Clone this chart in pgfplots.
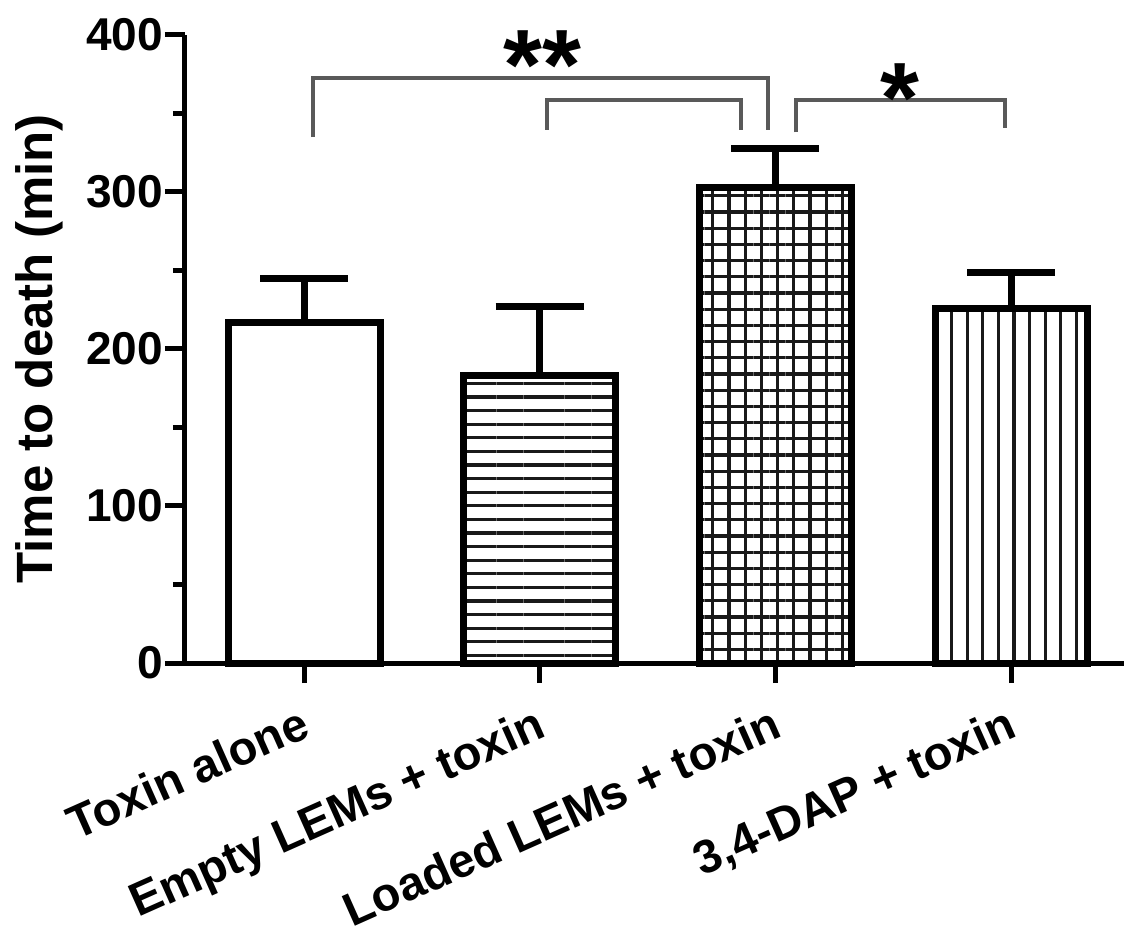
\documentclass[border=0pt]{standalone}
\usepackage{fontspec}
\setmainfont{Liberation Sans}
\usepackage{pgfplots}
\pgfplotsset{compat=1.18}
\usetikzlibrary{patterns.meta}
\begin{document}
\begin{tikzpicture}
\useasboundingbox (-185pt,-278pt) rectangle (939pt,663pt);
\begin{axis}[
  scale only axis, width=939pt, height=628pt,
  at={(0,0)}, anchor=south west,
  xmin=-0.505, xmax=3.479, ymin=0, ymax=400,
  clip=false,
  axis lines=left,
  axis line style={line width=5pt, -},
  xtick={0,1,2,3},
  xticklabels={Toxin alone, Empty LEMs + toxin, Loaded LEMs + toxin, 3{,}4-DAP + toxin},
  ytick={0,100,200,300,400},
  minor ytick={50,150,250,350},
  tick align=outside,
  major tick length=20pt, minor tick length=12pt,
  every tick/.style={line width=5pt, black},
  minor tick style={line width=5pt, black},
  /pgf/number format/assume math mode=true,
  tick label style={font=\fontsize{46}{50}\selectfont\bfseries, inner sep=0pt},
  yticklabel style={xshift=-2pt},
  xticklabel style={font=\fontsize{47}{52}\selectfont\bfseries, rotate=24, anchor=north east, xshift=-14pt, yshift=-17pt},
  ylabel={Time to death (min)},
  ylabel style={font=\fontsize{51}{56}\selectfont\bfseries, at={(axis description cs:-0.155,0.5)}, anchor=center},
]
\addplot[ybar, bar width=152pt, bar shift=0pt, draw=black, fill=white, line width=7pt]
  coordinates {(0,216.6)};
\addplot[ybar, bar width=152pt, bar shift=0pt, draw=black, line width=7pt,
  pattern={Lines[angle=0,distance=13.6pt,line width=3.3pt]}, pattern color=black!90]
  coordinates {(1,183.4)};
\addplot[ybar, bar width=152pt, bar shift=0pt, draw=black, line width=7pt,
  pattern={Hatch[angle=0,distance=16.2pt,line width=3.3pt]}, pattern color=black!90]
  coordinates {(2,303.0)};
\addplot[ybar, bar width=152pt, bar shift=0pt, draw=black, line width=7pt,
  pattern={Lines[angle=90,distance=15.6pt,line width=3.3pt]}, pattern color=black!90]
  coordinates {(3,225.5)};
\addplot[draw=none, mark=none,
  error bars/.cd, y dir=plus, y explicit,
  error bar style={line width=7pt, black},
  error mark options={rotate=90, mark size=44pt, line width=7pt, black}]
  coordinates {(0,216.6) +- (0,28.5) (1,183.4) +- (0,43.4) (2,303.0) +- (0,25.0) (3,225.5) +- (0,23.5)};
\draw[black!65, line width=3.5pt] (axis cs:0.038,335) |- (axis cs:1.969,372.6) -- (axis cs:1.969,339.5);
\draw[black!65, line width=3.5pt] (axis cs:1.031,339.5) |- (axis cs:1.854,358.6) -- (axis cs:1.854,339.5);
\draw[black!65, line width=3.5pt] (axis cs:2.087,338) |- (axis cs:2.974,358.6) -- (axis cs:2.974,341);
\node[anchor=north, inner sep=0pt, font=\fontsize{100}{100}\selectfont\bfseries] at (axis cs:1.01,403) {**};
\node[anchor=north, inner sep=0pt, font=\fontsize{100}{100}\selectfont\bfseries] at (axis cs:2.53,382) {*};
\end{axis}
\end{tikzpicture}
\end{document}
